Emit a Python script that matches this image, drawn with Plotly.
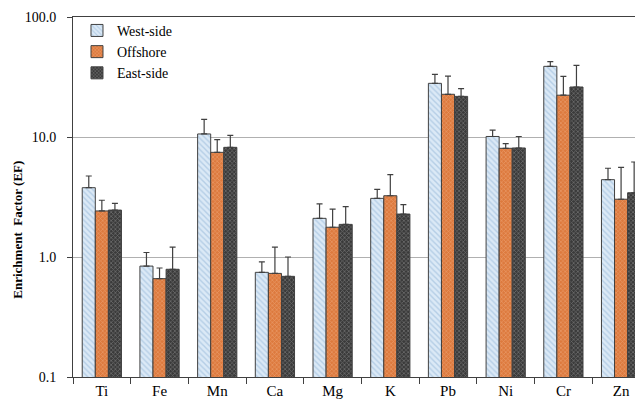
import plotly.graph_objects as go

elements = ["Ti", "Fe", "Mn", "Ca", "Mg", "K", "Pb", "Ni", "Cr", "Zn"]
west = [3.78, 0.84, 10.6, 0.745, 2.10, 3.08, 28.0, 10.1, 38.8, 4.41]
west_top = [4.73, 1.09, 14.0, 0.91, 2.77, 3.66, 33.3, 11.4, 42.4, 5.49]
offshore = [2.42, 0.66, 7.45, 0.73, 1.77, 3.24, 22.7, 8.05, 22.3, 3.03]
offshore_top = [2.97, 0.81, 9.5, 1.21, 2.51, 4.85, 32.2, 8.8, 32.0, 5.59]
east = [2.46, 0.79, 8.2, 0.69, 1.87, 2.28, 21.8, 8.1, 26.1, 3.43]
east_top = [2.80, 1.21, 10.3, 1.0, 2.63, 2.73, 25.3, 10.1, 39.6, 6.19]
y_ticks = [0.1, 1, 10, 100]
y_tick_text = ["0.1", "1.0", "10.0", "100.0"]

series = [
    ("West-side", west, west_top, dict(shape="\\", fgcolor="#8fb3d6", bgcolor="#dbe9f6", size=4, solidity=0.35)),
    ("Offshore", offshore, offshore_top, dict(shape="x", fgcolor="#f4b88f", bgcolor="#dd7a3e", size=3, solidity=0.4)),
    ("East-side", east, east_top, dict(shape="x", fgcolor="#9a9a9a", bgcolor="#3a3a3a", size=3, solidity=0.45)),
]

fig = go.Figure()
for name, vals, tops, pat in series:
    fig.add_trace(go.Bar(
        name=name, x=elements, y=vals,
        marker=dict(color=pat["bgcolor"], pattern=pat, line=dict(color="#404040", width=1)),
        error_y=dict(type="data", symmetric=False,
                     array=[t - v for t, v in zip(tops, vals)],
                     arrayminus=[0] * len(vals),
                     color="#404040", thickness=1.2, width=3),
    ))

serif = "Liberation Serif, Times New Roman, DejaVu Serif, serif"
# page has an 8px body margin; figure sized so it fills the 643x401 window
fig.update_layout(
    width=635, height=393,
    margin=dict(l=65, r=0, t=9, b=24),
    paper_bgcolor="white", plot_bgcolor="white",
    barmode="group", bargap=0.32, bargroupgap=0,
    font=dict(family=serif, color="black"),
    showlegend=True,
    legend=dict(x=0.007, y=1.006, xanchor="left", yanchor="top",
                font=dict(family=serif, size=14), bgcolor="rgba(0,0,0,0)",
                tracegroupgap=0, itemwidth=30),
    xaxis=dict(range=[-0.5, 9.38], tickson="boundaries", ticks="outside", ticklen=6,
               tickcolor="#404040", showline=True, linecolor="#404040", linewidth=1,
               mirror=True,
               tickfont=dict(family=serif, size=15), automargin=False, showgrid=False),
    yaxis=dict(type="log", range=[-1, 2], tickvals=y_ticks, ticktext=y_tick_text,
               showgrid=True, gridcolor="#b0b0b0", gridwidth=1.2,
               showline=True, linecolor="#404040", linewidth=1,
               ticks="outside", ticklen=5, tickcolor="#404040", ticklabelstandoff=8,
               tickfont=dict(family=serif, size=14), automargin=False, zeroline=False),
    annotations=[dict(text="<b>Enrichment  Factor (EF)</b>", textangle=-90,
                      xref="paper", yref="paper", x=(10 - 65) / 570, xanchor="center",
                      y=(369.5 - 222) / 360.5, yanchor="middle",
                      showarrow=False, font=dict(family=serif, size=13))],
)
fig.write_html("out.html")
